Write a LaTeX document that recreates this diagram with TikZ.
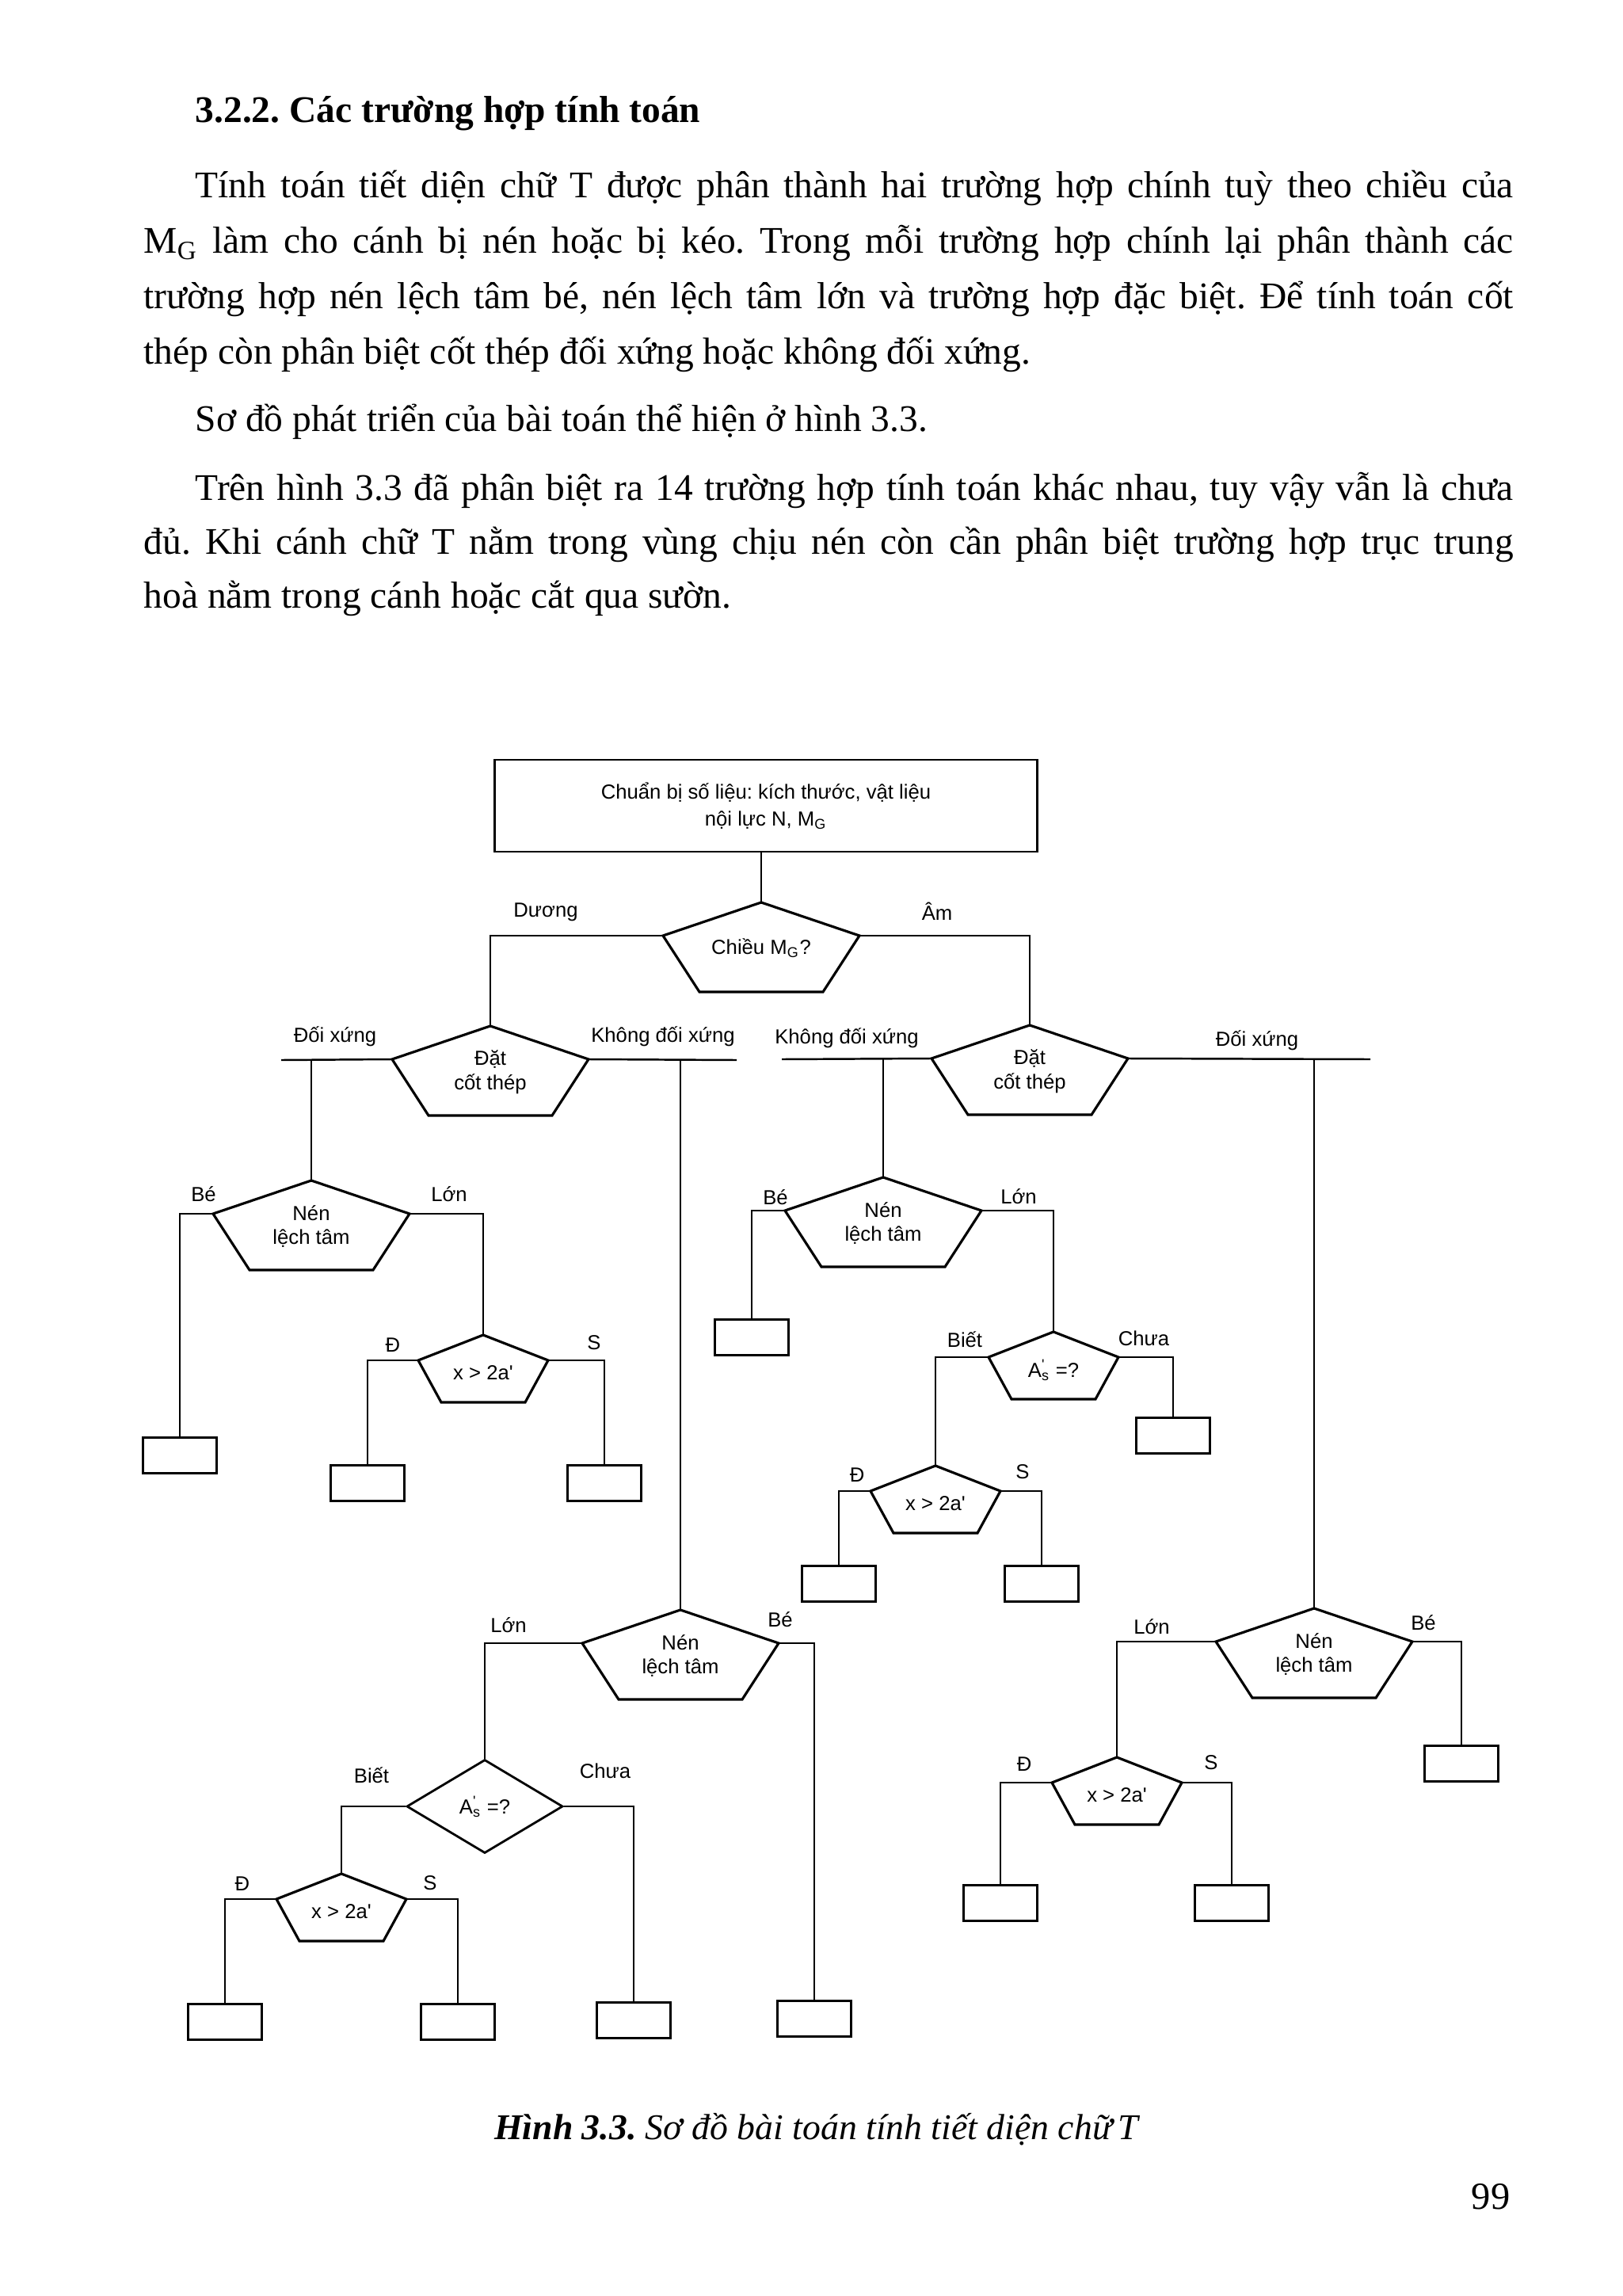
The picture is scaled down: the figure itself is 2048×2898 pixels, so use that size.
\documentclass[tikz,border=0pt]{standalone}
\usepackage{fontspec}
\setmainfont{Liberation Serif}
\newfontfamily\chartfont{Liberation Sans}
\usetikzlibrary{positioning,shapes.geometric}
\frenchspacing

\begin{document}
\begin{tikzpicture}[
  x=0.01cm, y=-0.01cm,
  body/.style={
    font=\fontsize{13.5pt}{19.9pt}\selectfont,
    inner sep=0pt,
    anchor=base west,
  },
  para/.style={body, text width=17.28cm, align=justify},
  lbl/.style={font=\chartfont\fontsize{7.3pt}{8.8pt}\selectfont, inner sep=0pt},
  edge/.style={draw=black, line width=0.9pt, line join=miter},
  wire/.style={draw=black, line width=0.7pt},
  leaf/.style={rectangle, draw=black, line width=0.8pt, minimum width=0.93cm, minimum height=0.45cm, inner sep=0pt},
  pics/bigpent/.style={code={
    \draw[edge] (0,0) coordinate (-top) -- (124,42) coordinate (-r) -- (78,113) -- (-78,113) -- (-124,42) coordinate (-l) -- cycle;
    \node[lbl, align=center] (-txt) at (0,58) {#1};
  }},
  pics/smallpent/.style={code={
    \draw[edge] (0,0) coordinate (-top) -- (82,32) coordinate (-r) -- (53,85) -- (-53,85) -- (-82,32) coordinate (-l) -- cycle;
    \node[lbl] (-txt) at (0,48) {#1};
  }},
]

  \useasboundingbox (0,0) rectangle (2048,2898);
  \fill[white] (0,0) rectangle (2048,2898);

  % --- Page text ---
  \node[body, font=\bfseries\fontsize{13.5pt}{16pt}\selectfont] (head) at (246,155) {3.2.2. Các trường hợp tính toán};
  \node[para] (p1) at (181,250) {\hspace*{0.65cm}Tính toán tiết diện chữ T được phân thành hai trường hợp chính tuỳ theo chiều của\linebreak
    M\textsubscript{G} làm cho cánh bị nén hoặc bị kéo. Trong mỗi trường hợp chính lại phân thành các\linebreak
    trường hợp nén lệch tâm bé, nén lệch tâm lớn và trường hợp đặc biệt. Để tính toán cốt\linebreak
    thép còn phân biệt cốt thép đối xứng hoặc không đối xứng.};
  \node[body] (p2) at (246,545) {Sơ đồ phát triển của bài toán thể hiện ở hình 3.3.};
  \node[para, font=\fontsize{13.5pt}{19.2pt}\selectfont] (p3) at (181,632) {\hspace*{0.65cm}Trên hình 3.3 đã phân biệt ra 14 trường hợp tính toán khác nhau, tuy vậy vẫn là chưa\linebreak
    đủ. Khi cánh chữ T nằm trong vùng chịu nén còn cần phân biệt trường hợp trục trung\linebreak
    hoà nằm trong cánh hoặc cắt qua sườn.};

  % --- Flowchart: start and first decisions ---
  \node[lbl, rectangle, draw=black, line width=0.8pt, minimum width=6.84cm, minimum height=1.16cm, align=center] (start) at (967,1017)
    {Chuẩn bị số liệu: kích thước, vật liệu\\[1pt]nội lực N, M\textsubscript{G}};
  \pic (chieu) at (961,1139) {bigpent={Chiều M\textsubscript{G}?}};
  \pic (datL) at (619,1295) {bigpent={Đặt\\cốt thép}};
  \pic (datR) at (1300,1294) {bigpent={Đặt\\cốt thép}};

  % --- Eccentric compression checks ---
  \pic (nenA) at (393,1490) {bigpent={Nén\\lệch tâm}};
  \pic (nenB) at (1115,1486) {bigpent={Nén\\lệch tâm}};
  \pic (nenC) at (859,2032) {bigpent={Nén\\lệch tâm}};
  \pic (nenD) at (1659,2030) {bigpent={Nén\\lệch tâm}};

  \pic (xA) at (610,1685) {smallpent={x > 2a'}};
  \pic (asB) at (1330,1681) {smallpent={A\rlap{\textsuperscript{'}}\textsubscript{s} =?}};
  \pic (xB) at (1181,1850) {smallpent={x > 2a'}};
  \pic (xC) at (431,2365) {smallpent={x > 2a'}};
  \pic (xD) at (1410,2218) {smallpent={x > 2a'}};
  \node[lbl, diamond, draw=black, line width=0.8pt, minimum width=1.97cm, minimum height=1.18cm] (asC) at (612,2280)
    {A\rlap{\textsuperscript{'}}\textsubscript{s} =?};

  % --- End cases ---
  \foreach \nm/\px/\py in {leafA1/227/1837, leafA2/464/1872, leafA3/763/1872,
      leafB1/949/1688, leafB2/1481/1812, leafB3/1059/1999, leafB4/1315/1999,
      leafC1/1028/2548, leafC2/800/2550, leafC3/284/2552, leafC4/578/2552,
      leafD1/1845/2226, leafD2/1263/2402, leafD3/1555/2402} {
    \node[leaf] (\nm) at (\px,\py) {};
  }

  % --- Connectors ---
  \draw[wire] (start.south -| chieu-top) -- (chieu-top);

  \coordinate (dxL) at (355,1338);
  \coordinate (kdxL) at (930,1338);
  \coordinate (kdxR) at (987,1337);
  \coordinate (dxR) at (1730,1337);
  \draw[wire] (datL-l) -- (dxL);
  \draw[wire] (datL-r) -- (kdxL);
  \draw[wire] (datR-l) -- (kdxR);
  \draw[wire] (datR-r) -- (dxR);
  \draw[wire] (datL-l -| nenA-top) -- (nenA-top);
  \draw[wire] (datL-r -| nenC-top) -- (nenC-top);
  \draw[wire] (datR-l -| nenB-top) -- (nenB-top);
  \draw[wire] (datR-r -| nenD-top) -- (nenD-top);

  \foreach \a/\b in {chieu-l/datL-top, chieu-r/datR-top, nenA-r/xA-top, nenB-r/asB-top,
      asB-l/xB-top, asC.west/xC-top, nenD-l/xD-top} {
    \draw[wire] (\a) -| (\b);
  }
  \draw[wire] (nenC-l) -| (asC.north);

  \foreach \a/\b in {nenA-l/leafA1, xA-l/leafA2, xA-r/leafA3, nenB-l/leafB1, asB-r/leafB2,
      xB-l/leafB3, xB-r/leafB4, nenC-r/leafC1, asC.east/leafC2, xC-l/leafC3, xC-r/leafC4,
      nenD-r/leafD1, xD-l/leafD2, xD-r/leafD3} {
    \draw[wire] (\a) -| (\b.north);
  }

  % --- Branch labels ---
  \foreach \nm/\tx/\px/\py in {lpos/Dương/689/1151, lneg/Âm/1183/1150,
      lsymL/Đối xứng/423/1308, lasyL/Không đối xứng/837/1308,
      lasyR/Không đối xứng/1069/1310, lsymR/Đối xứng/1587/1313,
      lbeA/Bé/257/1507, llonA/Lớn/567/1507, ldA/Đ/496/1698, lsA/S/750/1695,
      lbeB/Bé/979/1511, llonB/Lớn/1286/1510, lbietB/Biết/1218/1691, lchuaB/Chưa/1444/1689,
      ldB/Đ/1082/1862, lsB/S/1291/1858,
      llonC/Lớn/642/2051, lbeC/Bé/985/2044, lbietC/Biết/469/2241, lchuaC/Chưa/764/2235,
      ldC/Đ/306/2378, lsC/S/543/2377,
      llonD/Lớn/1454/2053, lbeD/Bé/1797/2048, ldD/Đ/1293/2227, lsD/S/1529/2225} {
    \node[lbl] (\nm) at (\px,\py) {\tx};
  }

  % --- Caption and page number ---
  \node[body, anchor=base, font=\fontsize{13pt}{15pt}\selectfont] (cap) at (1032,2700)
    {\textbf{\textit{Hình 3.3.}} \textit{Sơ đồ bài toán tính tiết diện chữ\,T}};
  \node[body, anchor=base east, font=\fontsize{13.8pt}{16pt}\selectfont] (pgno) at (1907,2788) {99};

\end{tikzpicture}
\end{document}
